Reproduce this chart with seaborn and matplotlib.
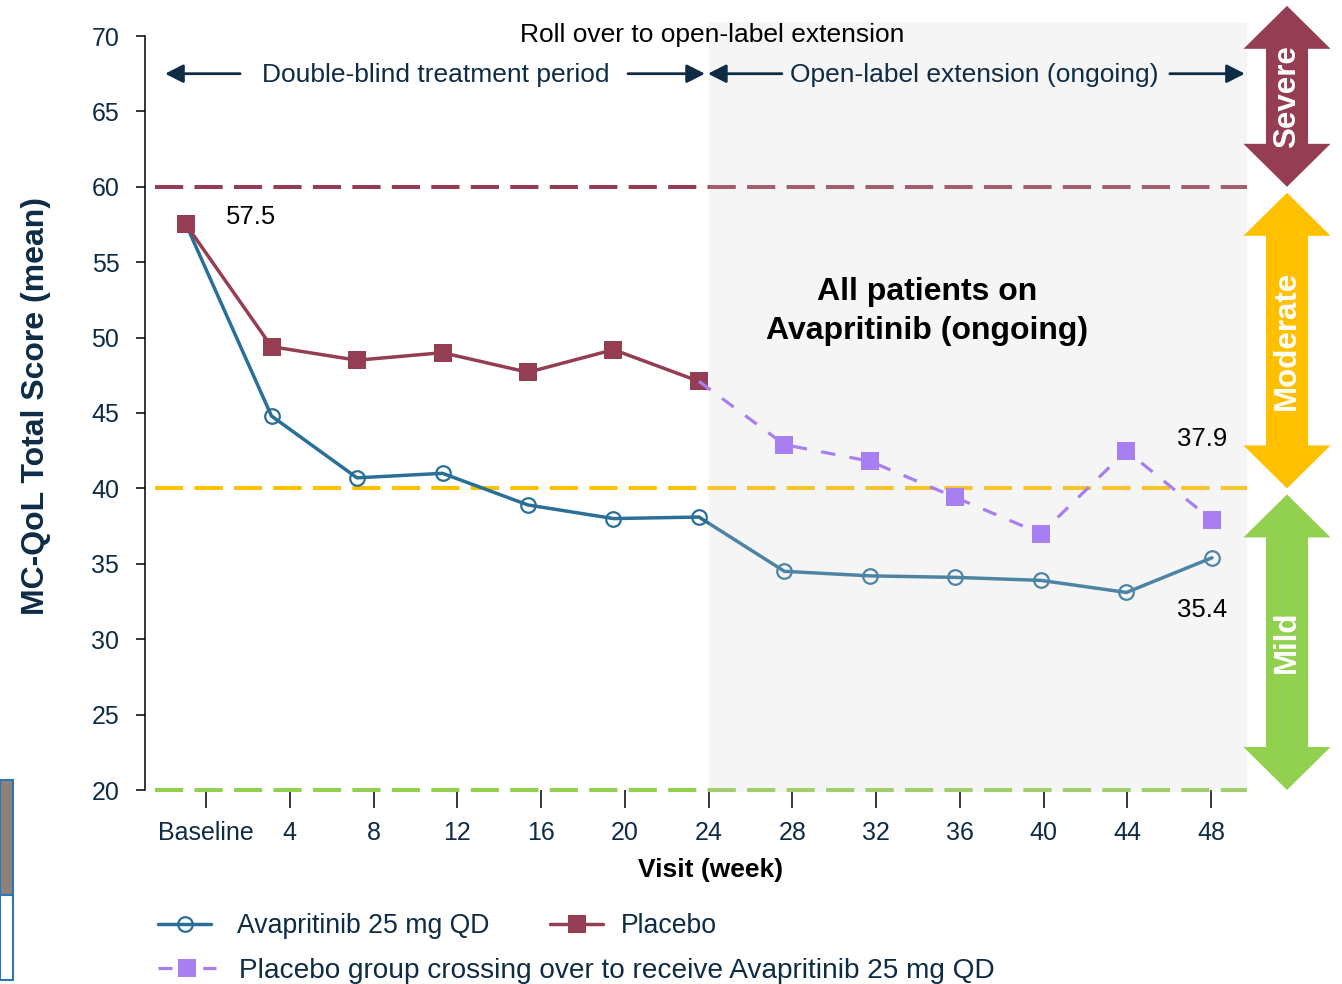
import matplotlib
matplotlib.use("Agg")
import matplotlib.pyplot as plt
import matplotlib.transforms as mtransforms
from matplotlib.patches import Rectangle, Polygon
from matplotlib.lines import Line2D
import pandas as pd
import seaborn as sns

# ---- data -------------------------------------------------------------
weeks = [0, 4, 8, 12, 16, 20, 24, 28, 32, 36, 40, 44, 48]
week_labels = ["Baseline", "4", "8", "12", "16", "20", "24",
               "28", "32", "36", "40", "44", "48"]
avapritinib = [57.5, 44.8, 40.7, 41.0, 38.9, 38.0, 38.1,
               34.5, 34.2, 34.1, 33.9, 33.1, 35.4]
placebo_weeks = [0, 4, 8, 12, 16, 20, 24]
placebo = [57.5, 49.4, 48.5, 49.0, 47.7, 49.2, 47.1]
crossover_weeks = [24, 28, 32, 36, 40, 44, 48]
crossover = [47.1, 42.9, 41.8, 39.4, 37.0, 42.5, 37.9]
severity_names = ["Mild", "Moderate", "Severe"]
severity_lows = [20, 40, 60]
severity_highs = [39.6, 59.6, 72.0]
open_label_start = 24.45

# ---- style ------------------------------------------------------------
sns.set_style("white")
plt.rcParams["font.family"] = ["Liberation Sans", "DejaVu Sans"]
NAVY = "#0E2C45"
BLUE = "#2A6F97"
MAROON = "#953D53"
PURPLE = "#A77FF0"
YELLOW = "#FFC000"
GREEN = "#92D050"
severity_colors = [GREEN, YELLOW, MAROON]

fig = plt.figure(figsize=(13.42, 9.84), dpi=100)
ax = fig.add_axes([145 / 1342, 194 / 984, 1102 / 1342, 754 / 984])
ax.set_xlim(-1.92, 49.64)
ax.set_ylim(20, 70)

df_ava = pd.DataFrame({"week": weeks, "score": avapritinib})
df_pla = pd.DataFrame({"week": placebo_weeks, "score": placebo})
df_cross = pd.DataFrame({"week": crossover_weeks, "score": crossover})

# severity thresholds
for y, c in zip(severity_lows, severity_colors):
    ax.axhline(y, xmin=0.009, xmax=1, color=c, lw=2.9,
               linestyle=(0, (7, 2.8)), zorder=1.8, clip_on=False)

# Avapritinib arm
sns.lineplot(data=df_ava, x="week", y="score", ax=ax, color=BLUE, lw=2.5,
             marker="o", markersize=10.5, markerfacecolor="none",
             markeredgecolor=BLUE, markeredgewidth=1.6, zorder=2,
             legend=False)

# open-label extension shading (semi-transparent, sits over earlier layers)
ax.add_patch(Rectangle((open_label_start, 19.87), 49.64 - open_label_start,
                       70.93 - 19.87, facecolor="#D2D2D2", alpha=0.22,
                       lw=0, zorder=2.5, clip_on=False))

# placebo arm
sns.lineplot(data=df_pla, x="week", y="score", ax=ax, color=MAROON, lw=2.5,
             marker="s", markersize=13.5, markerfacecolor=MAROON,
             markeredgecolor=MAROON, markeredgewidth=0, zorder=3,
             legend=False)

# crossover group
sns.lineplot(data=df_cross, x="week", y="score", ax=ax, color=PURPLE, lw=2.3,
             linestyle=(0, (4.5, 4.5)), marker="s", markersize=13,
             markerfacecolor=PURPLE, markeredgecolor=PURPLE,
             markeredgewidth=0, markevery=list(range(1, len(crossover))),
             zorder=3, legend=False)

# value labels
def value_label(x, y, dx, dy):
    ax.annotate(f"{y:.1f}", xy=(x, y), xytext=(dx, dy),
                textcoords="offset pixels", ha="center", va="center",
                fontsize=18.5, color="black", zorder=5)

value_label(weeks[0], avapritinib[0], 65, 7)
value_label(crossover_weeks[-1], crossover[-1], -10, 81)
value_label(weeks[-1], avapritinib[-1], -10, -52)

ax.text(34.67, 51.75, "All patients on\nAvapritinib (ongoing)", ha="center",
        va="center", fontsize=23, fontweight="bold", color="black",
        linespacing=1.4, zorder=5)

# period annotations
roll = ax.text(24.6, 70.07, "Roll over to open-label extension", ha="center",
               va="center", fontsize=19, color="black", clip_on=False)
ax.text(11.7, 67.42, "Double-blind treatment period", ha="center",
        va="center", fontsize=19, color=NAVY, clip_on=False)
ax.text(36.9, 67.42, "Open-label extension (ongoing)", ha="center",
        va="center", fontsize=19, color=NAVY, clip_on=False)
arrow_kw = dict(arrowstyle="-|>,head_length=0.55,head_width=0.28",
                color=NAVY, lw=2, mutation_scale=20, shrinkA=0, shrinkB=0)
for start, end in [(2.53, -0.98), (20.68, 24.28), (27.88, 24.42),
                   (46.03, 49.54)]:
    ax.annotate("", xy=(end, 67.5), xytext=(start, 67.5),
                arrowprops=arrow_kw, annotation_clip=False)

# severity band arrows on the right
blend = mtransforms.blended_transform_factory(ax.transAxes, ax.transData)
xc, hs, hh, hl = 1.0363, 0.0191, 0.0395, 2.85
for name, lo, hi, col in zip(severity_names, severity_lows, severity_highs,
                             severity_colors):
    pts = [(xc, hi), (xc + hh, hi - hl), (xc + hs, hi - hl),
           (xc + hs, lo + hl), (xc + hh, lo + hl), (xc, lo),
           (xc - hh, lo + hl), (xc - hs, lo + hl), (xc - hs, hi - hl),
           (xc - hh, hi - hl)]
    ax.add_patch(Polygon(pts, closed=True, facecolor=col, edgecolor="none",
                         transform=blend, clip_on=False, zorder=4))
    ax.text(xc, (lo + hi) / 2, name, transform=blend, rotation=90,
            ha="center", va="center", fontsize=22.5, fontweight="bold",
            color="white", zorder=5)

# axes styling
sns.despine(ax=ax, top=True, right=True, bottom=True)
ax.spines["left"].set_color("black")
ax.spines["left"].set_linewidth(1.1)
ax.set_yticks(range(20, 71, 5))
ax.tick_params(axis="y", length=6.5, width=1.1, pad=12, labelsize=18,
               labelcolor=NAVY, color="black", left=True)
ax.tick_params(axis="x", bottom=False, labelbottom=False)


def to_tick(w):
    return 1.0208 * w - 0.955


def to_week(t):
    return (t + 0.955) / 1.0208


secx = ax.secondary_xaxis("bottom", functions=(to_tick, to_week))
secx.set_xticks(weeks, week_labels)
secx.spines["bottom"].set_visible(False)
secx.tick_params(axis="x", length=13, width=1.1, pad=9, labelsize=18,
                 labelcolor=NAVY, color="black")

ax.set_ylabel("MC-QoL Total Score (mean)", fontsize=23, fontweight="bold",
              color=NAVY, va="center")
ax.yaxis.set_label_coords(-0.0989, 0.509)
ax.set_xlabel("Visit (week)", fontsize=19, fontweight="bold", color="black",
              va="center")
ax.xaxis.set_label_coords(0.5136, -0.1055)

# legend
h_ava = Line2D([], [], color=BLUE, lw=2.5, marker="o", markersize=10.5,
               markerfacecolor="none", markeredgecolor=BLUE,
               markeredgewidth=1.6)
h_pla = Line2D([], [], color=MAROON, lw=2.5, marker="s", markersize=13.5,
               markerfacecolor=MAROON, markeredgewidth=0)
h_cross = Line2D([], [], color=PURPLE, lw=2.3, linestyle=(0, (4.4, 2.6)),
                 marker="s", markersize=13, markerfacecolor=PURPLE,
                 markeredgewidth=0)
legend_kw = dict(loc="center left", frameon=False, labelcolor=NAVY,
                 borderpad=0, borderaxespad=0)
fig.legend(handles=[h_ava], labels=["Avapritinib 25 mg QD"],
           bbox_to_anchor=(158 / 1342, 1 - 926 / 984), fontsize=19.2,
           handlelength=2.0, handletextpad=0.97, **legend_kw)
fig.legend(handles=[h_pla], labels=["Placebo"],
           bbox_to_anchor=(550 / 1342, 1 - 926 / 984), fontsize=19.2,
           handlelength=2.0, handletextpad=0.67, **legend_kw)
fig.legend(handles=[h_cross],
           labels=["Placebo group crossing over to receive Avapritinib 25 mg QD"],
           bbox_to_anchor=(158 / 1342, 1 - 971 / 984), fontsize=20.2,
           handlelength=2.05, handletextpad=0.85, **legend_kw)

# small boxes at the lower left edge
fig.patches.append(Rectangle((0, 1 - 895 / 984), 13 / 1342, 115 / 984,
                             transform=fig.transFigure, facecolor="#8C8279",
                             edgecolor="#2E75B6", lw=1.5))
fig.patches.append(Rectangle((0, 1 - 980 / 984), 13 / 1342, 85 / 984,
                             transform=fig.transFigure, facecolor="white",
                             edgecolor="#2E75B6", lw=1.5))

fig.savefig("out.png", dpi=100)
